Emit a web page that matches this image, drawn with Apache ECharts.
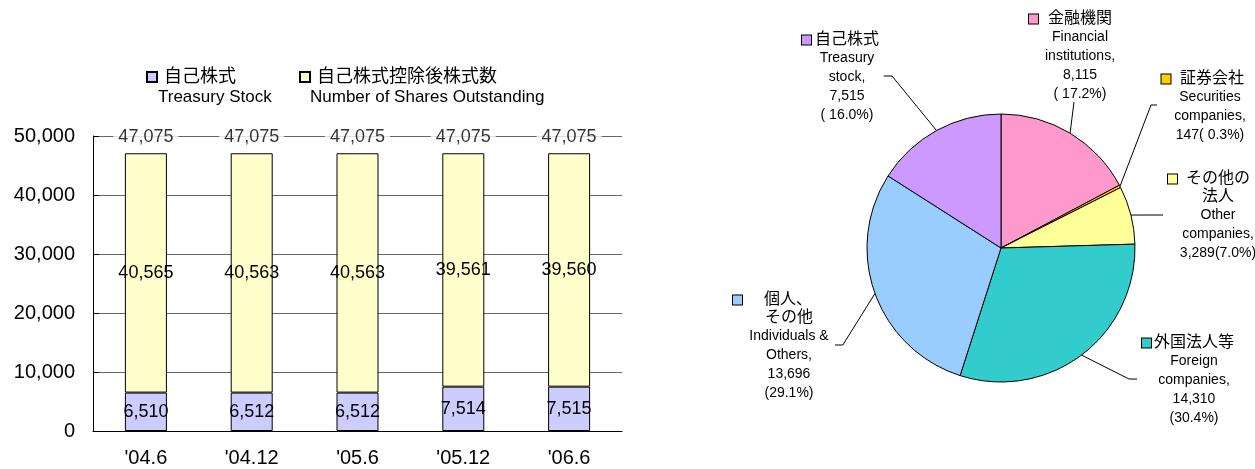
<!DOCTYPE html>
<html><head><meta charset="utf-8">
<script src="https://cdn.jsdelivr.net/npm/echarts@6/dist/echarts.min.js"></script>
<style>html,body{margin:0;padding:0;background:#fff}#c{width:1255px;height:469px}</style>
</head><body><div id="c"></div>
<script>
// ---- bar chart data ----
const categories = ["'04.6", "'04.12", "'05.6", "'05.12", "'06.6"];
const treasuryStock = [6510, 6512, 6512, 7514, 7515];
const sharesOutstanding = [40565, 40563, 40563, 39561, 39560];
const totalShares = [47075, 47075, 47075, 47075, 47075];
const barSeriesNames = ['自己株式', '自己株式控除後株式数'];
const barSeriesNamesEn = ['Treasury Stock', 'Number of Shares Outstanding'];

// ---- pie chart data ----
const pieNamesJa = ['金融機関', '証券会社', 'その他の\n法人', '外国法人等', '個人、\nその他', '自己株式'];
const pieNamesEn = [['Financial', 'institutions,'], ['Securities', 'companies,'], ['Other', 'companies,'], ['Foreign', 'companies,'], ['Individuals &', 'Others,'], ['Treasury', 'stock,']];
const pieValues = [8115, 147, 3289, 14310, 13696, 7515];
const piePercents = ['( 17.2%)', '( 0.3%)', '(7.0%)', '(30.4%)', '(29.1%)', '( 16.0%)'];

// ---- styles / layout (kept separate from data) ----
const pieColors = ['#ff99cc', '#ffcc00', '#ffff99', '#33cccc', '#99ccff', '#cc99ff'];
const pieCenter = [1001, 248];
const pieRadius = 134;
const pieLabelLayout = [
  {x: 1080,   y: 10,  w: 102, shift: 0, oneLine: false, elbow: null,          end: [1074, 102]},
  {x: 1210,   y: 70,  w: 97,  shift: 2, oneLine: true,  elbow: [1151, 105],   end: [1157, 105]},
  {x: 1218,   y: 170, w: 100, shift: 0, oneLine: true,  elbow: null,          end: [1163, 215]},
  {x: 1194,   y: 334, w: 104, shift: 0, oneLine: false, elbow: [1129, 379],   end: [1137, 379]},
  {x: 789,    y: 291, w: 112, shift: -1, oneLine: false, elbow: [842.8, 345], end: [835, 345]},
  {x: 847,    y: 31,  w: 90,  shift: 0, oneLine: false, elbow: [892, 76],     end: [883.7, 76]}
];

const FONT = '"Liberation Sans", "Noto Sans CJK JP", sans-serif';
const fmt = v => Number(v).toLocaleString('en-US');

// rich styles for pie labels
const pieRich = {
  ja: {fontSize: 16, lineHeight: 18, align: 'center', color: '#000', fontFamily: FONT},
  en: {fontSize: 14, lineHeight: 19, align: 'center', color: '#000', fontFamily: FONT},
  rs: {width: 9, height: 9, align: 'right'}
};
pieColors.forEach((c, i) => {
  pieRich['s' + i] = {width: 9, height: 9, backgroundColor: c, borderColor: '#000', borderWidth: 1, align: 'left'};
  const sh = pieLabelLayout[i].shift;
  pieRich['j' + i] = {fontSize: 16, lineHeight: 18, align: 'center', color: '#000', fontFamily: FONT,
    padding: sh >= 0 ? [0, 0, 0, 2 * sh] : [0, -2 * sh, 0, 0]};
});

function pieLabelText(i) {
  const ja = pieNamesJa[i].split('\n');
  const lines = [`{s${i}|}{j${i}|${ja[0]}}{rs|}`];
  for (let k = 1; k < ja.length; k++) lines.push(`{ja|${ja[k]}}`);
  pieNamesEn[i].forEach(e => lines.push(`{en|${e}}`));
  if (pieLabelLayout[i].oneLine) {
    lines.push(`{en|${fmt(pieValues[i])}${piePercents[i]}}`);
  } else {
    lines.push(`{en|${fmt(pieValues[i])}}`);
    lines.push(`{en|${piePercents[i]}}`);
  }
  return lines.join('\n');
}

// fallback edge points (mid-angle of each slice)
const pieTotal = pieValues.reduce((a, b) => a + b, 0);
function edgePoint(i) {
  let before = 0;
  for (let k = 0; k < i; k++) before += pieValues[k];
  const mid = (before + pieValues[i] / 2) / pieTotal * 2 * Math.PI;
  return [pieCenter[0] + pieRadius * Math.sin(mid), pieCenter[1] - pieRadius * Math.cos(mid)];
}

const chart = echarts.init(document.getElementById('c'), null, {renderer: 'canvas'});

const option = {
  animation: false,
  backgroundColor: '#fff',
  textStyle: {fontFamily: FONT},
  legend: {
    data: barSeriesNames,
    left: 141,
    top: 62,
    itemWidth: 10,
    itemHeight: 10,
    itemGap: 63,
    icon: 'rect',
    selectedMode: false,
    textStyle: {fontSize: 18, color: '#000', fontFamily: FONT, lineHeight: 20, padding: [0, 0, 0, 2]}
  },
  graphic: [
    {type: 'text', left: 158, top: 89, style: {text: barSeriesNamesEn[0], fontSize: 17, fill: '#000', fontFamily: FONT}},
    {type: 'text', left: 310, top: 89, style: {text: barSeriesNamesEn[1], fontSize: 17, fill: '#000', fontFamily: FONT}}
  ],
  grid: {left: 93, right: 633, top: 136, bottom: 38, containLabel: false},
  xAxis: {
    type: 'category',
    data: categories,
    axisLine: {lineStyle: {color: '#000', width: 1}},
    axisTick: {inside: true, length: 6, lineStyle: {color: '#000'}},
    axisLabel: {fontSize: 20, color: '#000', margin: 17, fontFamily: FONT}
  },
  yAxis: {
    type: 'value',
    min: 0, max: 50000, interval: 10000,
    axisLine: {show: true, lineStyle: {color: '#000', width: 1}},
    axisTick: {show: true, inside: true, length: 6, lineStyle: {color: '#000'}},
    axisLabel: {fontSize: 20, color: '#000', margin: 18, fontFamily: FONT, formatter: v => fmt(v)},
    splitLine: {lineStyle: {color: '#666', width: 1}}
  },
  series: [
    {
      name: barSeriesNames[0], type: 'bar', stack: 'shares', data: treasuryStock, barWidth: 42,
      itemStyle: {color: '#ccccff', borderColor: '#000', borderWidth: 1},
      label: {show: true, position: 'inside', color: '#000', fontSize: 18, fontFamily: FONT, formatter: p => fmt(p.value)}
    },
    {
      name: barSeriesNames[1], type: 'bar', stack: 'shares', data: sharesOutstanding, barWidth: 42,
      itemStyle: {color: '#ffffcc', borderColor: '#000', borderWidth: 1},
      label: {show: true, position: 'inside', color: '#000', fontSize: 18, fontFamily: FONT, formatter: p => fmt(p.value)}
    },
    {
      name: 'total', type: 'scatter', data: totalShares, symbolSize: 1,
      itemStyle: {color: 'rgba(0,0,0,0)'}, z: 10,
      label: {show: true, position: 'top', distance: 6, color: '#000', fontSize: 18, fontFamily: FONT,
        backgroundColor: '#fff', padding: [1, 5], formatter: p => fmt(p.value)}
    },
    {
      name: 'shareholders', type: 'pie',
      center: pieCenter, radius: pieRadius,
      startAngle: 90, clockwise: true, avoidLabelOverlap: false,
      legendHoverLink: false,
      data: pieValues.map((v, i) => ({
        value: v,
        name: pieNamesEn[i].join(' '),
        itemStyle: {color: pieColors[i]},
        label: {width: pieLabelLayout[i].w}
      })),
      itemStyle: {borderColor: '#000', borderWidth: 1},
      label: {
        show: true, position: 'outside', color: '#000', fontFamily: FONT,
        formatter: p => pieLabelText(p.dataIndex),
        rich: pieRich
      },
      labelLine: {show: true, length: 10, length2: 10, lineStyle: {color: '#000', width: 1}},
      emphasis: {disabled: true},
      labelLayout: function (params) {
        const i = params.dataIndex;
        const L = pieLabelLayout[i];
        const p0 = (params.labelLinePoints && params.labelLinePoints[0]) || edgePoint(i);
        const mid = L.elbow || [(p0[0] + L.end[0]) / 2, (p0[1] + L.end[1]) / 2];
        return {x: L.x, y: L.y, align: 'center', verticalAlign: 'top', labelLinePoints: [p0, mid, L.end]};
      }
    }
  ]
};
chart.setOption(option);
</script>
</body></html>
